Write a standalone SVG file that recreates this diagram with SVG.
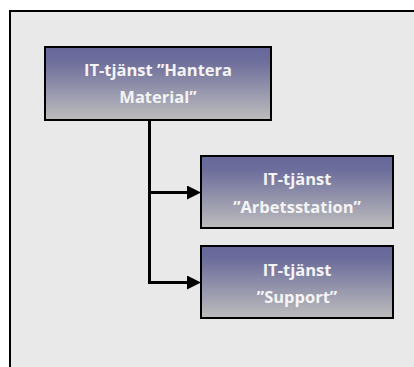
<svg xmlns="http://www.w3.org/2000/svg" width="414" height="367" viewBox="0 0 414 367">
<defs>
<linearGradient id="g" x1="0" y1="0" x2="0" y2="1">
<stop offset="0" stop-color="#66669a"/>
<stop offset="0.2" stop-color="#6e6e9c"/>
<stop offset="1" stop-color="#bdbdbd"/>
</linearGradient>
<marker id="arr" markerWidth="14" markerHeight="14" refX="0" refY="7" orient="auto" markerUnits="userSpaceOnUse">
<path d="M0,0 L14,7 L0,14 Z" fill="#000"/>
</marker>
<style>
.box{fill:url(#g);stroke:#000;stroke-width:2}
.t{font-family:"Open Sans","Noto Sans","Liberation Sans",sans-serif;font-weight:bold;font-size:16.5px;fill:#f4f4f4;text-anchor:middle}
.c{fill:none;stroke:#000;stroke-width:3}
</style>
</defs>
<rect x="0" y="0" width="414" height="367" fill="#fff"/>
<rect x="10" y="11" width="410" height="370" fill="#e9e9e9" stroke="#000" stroke-width="2"/>
<g id="connectors">
<path class="c" d="M149.5,120 V282.5 H187" marker-end="url(#arr)"/>
<path class="c" d="M149.5,192.5 H187" marker-end="url(#arr)"/>
</g>
<g id="n1">
<rect class="box" x="45" y="47" width="226" height="73"/>
<text class="t" x="158" y="76">IT-tjänst ”Hantera</text>
<text class="t" x="158" y="103">Material”</text>
</g>
<g id="n2">
<rect class="box" x="201" y="156" width="192" height="72"/>
<text class="t" x="297" y="185">IT-tjänst</text>
<text class="t" x="297" y="213">”Arbetsstation”</text>
</g>
<g id="n3">
<rect class="box" x="201" y="246" width="192" height="72"/>
<text class="t" x="297" y="276">IT-tjänst</text>
<text class="t" x="297" y="303">”Support”</text>
</g>
</svg>
